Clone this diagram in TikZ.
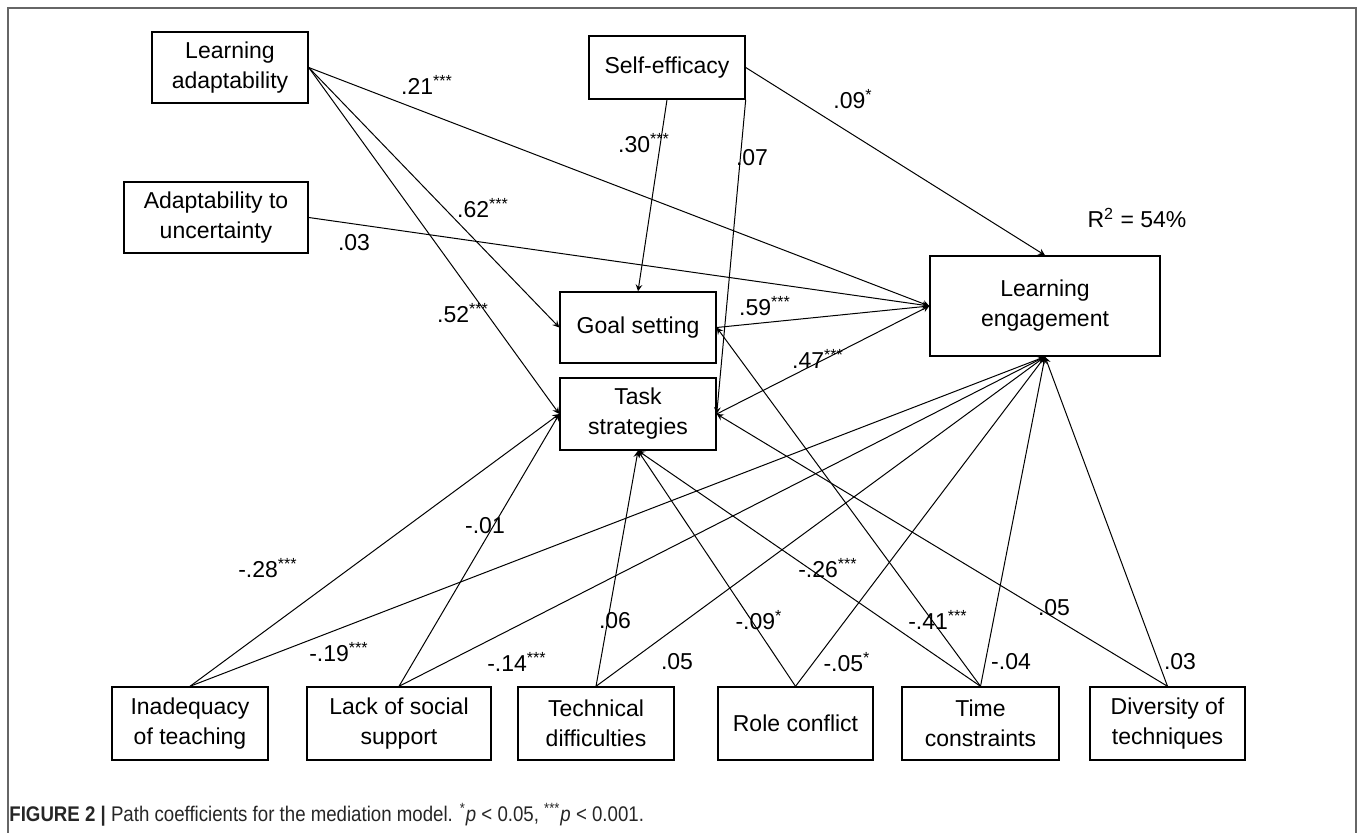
\documentclass[tikz,border=0pt]{standalone}
\usepackage{fontspec}
\setmainfont{Liberation Sans}
\newfontfamily\capfont{Liberation Sans}[FakeStretch=0.88]

\tikzset{
    pm box/.style={draw=black, line width=0.7pt, inner sep=0pt,
                   align=center, font=\fontsize{11.5}{15}\selectfont},
    pm path/.style={->, >=stealth, line width=0.5pt, black},
    pm coef/.style={font=\fontsize{11.5}{14}\selectfont, inner sep=0pt},
    pm frame/.style={draw=black!60, line width=0.6pt},
}
\newcommand{\sig}[1]{\textsuperscript{#1}}

\begin{document}
\begin{tikzpicture}[x=0.5pt, y=-0.5pt]
    \useasboundingbox (0,0) rectangle (1358,833);
    \draw[pm frame] (8,8) rectangle (1356,860);
    % Predictors (top left)
    \node[pm box, minimum width=78pt, minimum height=35.5pt] (la) at (230,67.5) {Learning\\adaptability};
    \node[pm box, minimum width=78pt, minimum height=31.5pt] (se) at (667,67.5) {Self-efficacy};
    \node[pm box, minimum width=92pt, minimum height=35.5pt] (au) at (216,217.5) {Adaptability to\\uncertainty};
    % Mediators
    \node[pm box, minimum width=78pt, minimum height=35.5pt] (gs) at (638,327.5) {Goal setting};
    \node[pm box, minimum width=78pt, minimum height=36pt] (ts) at (638,414) {Task\\strategies};
    % Outcome
    \node[pm box, minimum width=115pt, minimum height=50pt] (le) at (1045,306) {Learning\\engagement};
    \node[pm coef] (r2) at (1137,218) {R\sig{2} = 54\%};
    % Barriers (bottom row)
    \node[pm box, minimum width=78pt, minimum height=36.5pt] (it) at (190,723.5) {Inadequacy\\of teaching};
    \node[pm box, minimum width=92pt, minimum height=36.5pt] (ls) at (399,723.5) {Lack of social\\support};
    \node[pm box, minimum width=78pt, minimum height=36.5pt] (td) at (596,723.5) {Technical\\difficulties};
    \node[pm box, minimum width=77.5pt, minimum height=36.5pt] (rc) at (795.5,723.5) {Role conflict};
    \node[pm box, minimum width=78.5pt, minimum height=36.5pt] (tc) at (980.5,723.5) {Time\\constraints};
    \node[pm box, minimum width=77.5pt, minimum height=36.5pt] (dt) at (1167.5,723.5) {Diversity of\\techniques};

    % Paths from the top
    \draw[pm path] (la.east) -- (le.west);
    \draw[pm path] (la.east) -- (gs.west);
    \draw[pm path] (la.east) -- (ts.west);
    \draw[pm path] (au.east) -- (le.west);
    \draw[pm path] (se.south) -- (gs.north);
    \draw[pm path] (se.south east) -- (ts.east);
    \draw[pm path] (se.east) -- (le.north);
    \draw[pm path] (gs.east) -- (le.west);
    \draw[pm path] (ts.east) -- (le.west);
    % Paths from the bottom row to the mediators
    \draw[pm path] (it.north) -- (ts.west);
    \draw[pm path] (ls.north) -- (ts.west);
    \draw[pm path] (td.north) -- (ts.south);
    \draw[pm path] (rc.north) -- (ts.south);
    \draw[pm path] (tc.north) -- (ts.south);
    \draw[pm path] (tc.north) -- (gs.east);
    \draw[pm path] (dt.north) -- (ts.east);
    % Paths from the bottom row to the outcome
    \foreach \b in {it,ls,td,rc,tc,dt}
        \draw[pm path] (\b.north) -- (le.south);

    % Coefficients
    \node[pm coef] (c-la-le) at (427,85) {.21\sig{***}};
    \node[pm coef] (c-se-gs) at (644,143) {.30\sig{***}};
    \node[pm coef] (c-la-gs) at (483,208) {.62\sig{***}};
    \node[pm coef] (c-au-le) at (354,243) {.03};
    \node[pm coef] (c-la-ts) at (463,313) {.52\sig{***}};
    \node[pm coef] (c-se-ts) at (752,158) {.07};
    \node[pm coef] (c-se-le) at (853,99) {.09\sig{*}};
    \node[pm coef] (c-gs-le) at (765,306) {.59\sig{***}};
    \node[pm coef] (c-ts-le) at (818,359) {.47\sig{***}};
    \node[pm coef] (c-it-ts) at (268,568) {-.28\sig{***}};
    \node[pm coef] (c-ls-ts) at (485,526) {-.01};
    \node[pm coef] (c-it-le) at (339,652) {-.19\sig{***}};
    \node[pm coef] (c-ls-le) at (517,662) {-.14\sig{***}};
    \node[pm coef] (c-td-ts) at (615,621) {.06};
    \node[pm coef] (c-td-le) at (677,662) {.05};
    \node[pm coef] (c-tc-ts) at (828,568) {-.26\sig{***}};
    \node[pm coef] (c-dt-ts) at (1054,608) {.05};
    \node[pm coef] (c-rc-ts) at (759,620) {-.09\sig{*}};
    \node[pm coef] (c-tc-gs) at (938,620) {-.41\sig{***}};
    \node[pm coef] (c-rc-le) at (847,662) {-.05\sig{*}};
    \node[pm coef] (c-tc-le) at (1011,662) {-.04};
    \node[pm coef] (c-dt-le) at (1180,662) {.03};

    % Caption
    \node[anchor=west, inner sep=0pt, text=black!85, font=\capfont\fontsize{10.6}{12}\selectfont] (caption) at (9,815)
        {\textbf{FIGURE 2 |} Path coefficients for the mediation model. \sig{*}\textit{p} < 0.05, \sig{***}\textit{p} < 0.001.};
\end{tikzpicture}
\end{document}
